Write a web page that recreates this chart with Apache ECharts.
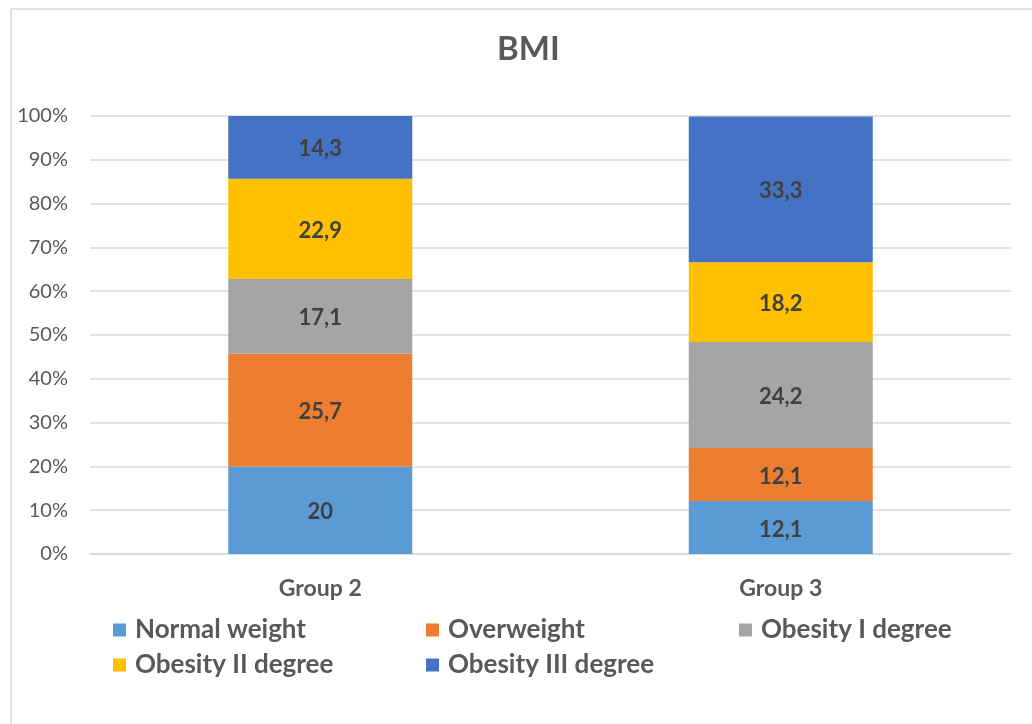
<!DOCTYPE html>
<html>
<head>
<meta charset="utf-8">
<script src="https://cdn.jsdelivr.net/npm/echarts@6/dist/echarts.min.js"></script>
<style>
  html, body { margin: 0; padding: 0; background: #fff; }
  #chart { width: 1032px; height: 724px; }
</style>
</head>
<body>
<div id="chart"></div>
<script>
// BMI distribution per group (percent of group)
const groups = ['Group 2', 'Group 3'];
const seriesNames = ['Normal weight', 'Overweight', 'Obesity I degree', 'Obesity II degree', 'Obesity III degree'];
const normalWeight = [20, 12.1];
const overweight = [25.7, 12.1];
const obesity1 = [17.1, 24.2];
const obesity2 = [22.9, 18.2];
const obesity3 = [14.3, 33.3];
const colors = ['#5b9bd5', '#ed7d31', '#a5a5a5', '#ffc000', '#4472c4'];

const values = [normalWeight, overweight, obesity1, obesity2, obesity3];
const FONT = 'Lato, "Open Sans", sans-serif';

const chart = echarts.init(document.getElementById('chart'), null, { renderer: 'canvas' });

// one legend block per entry so the entries sit in fixed columns
const legendPos = [
  { left: 113, top: 617 }, { left: 426, top: 617 }, { left: 739, top: 617 },
  { left: 113, top: 652 }, { left: 426, top: 652 }
];

chart.setOption({
  backgroundColor: '#fff',
  animation: false,
  title: {
    text: 'BMI',
    left: 497,
    top: 33,
    padding: 0,
    textStyle: { fontFamily: FONT, fontSize: 33, fontWeight: 'bold', color: '#595959' }
  },
  graphic: [{
    type: 'rect',
    shape: { x: 11, y: 9, width: 1060, height: 760 },
    style: { fill: 'none', stroke: '#d9d9d9', lineWidth: 1.5 },
    silent: true
  }],
  legend: seriesNames.map((n, i) => ({
    data: [n],
    left: legendPos[i].left,
    top: legendPos[i].top,
    padding: 0,
    itemWidth: 13,
    itemHeight: 13,
    icon: 'rect',
    itemGap: 0,
    selectedMode: false,
    textStyle: { fontFamily: FONT, fontSize: 26, fontWeight: 'bold', color: '#595959', padding: [0, 0, 0, 4] }
  })),
  grid: { left: 90, right: 21, top: 116, bottom: 170, containLabel: false },
  xAxis: {
    type: 'category',
    data: groups,
    axisLine: { show: true, lineStyle: { color: '#d9d9d9', width: 1.5 } },
    axisTick: { show: false },
    axisLabel: { margin: 23, fontFamily: FONT, fontSize: 23, fontWeight: 'bold', color: '#595959' }
  },
  yAxis: {
    type: 'value',
    min: 0,
    max: 100,
    interval: 10,
    axisLine: { show: false },
    axisTick: { show: false },
    splitLine: { lineStyle: { color: '#d9d9d9', width: 1.5 } },
    axisLabel: { margin: 22, fontFamily: FONT, fontSize: 20, color: '#595959', formatter: '{value}%' }
  },
  series: seriesNames.map((n, i) => ({
    name: n,
    type: 'bar',
    stack: 'bmi',
    barWidth: 184,
    itemStyle: { color: colors[i] },
    label: {
      show: true,
      position: 'inside',
      fontFamily: FONT,
      fontSize: 22,
      fontWeight: 'bold',
      color: '#404040',
      offset: [0, 2],
      formatter: p => String(p.value).replace('.', ',')
    },
    data: values[i]
  }))
});
</script>
</body>
</html>
